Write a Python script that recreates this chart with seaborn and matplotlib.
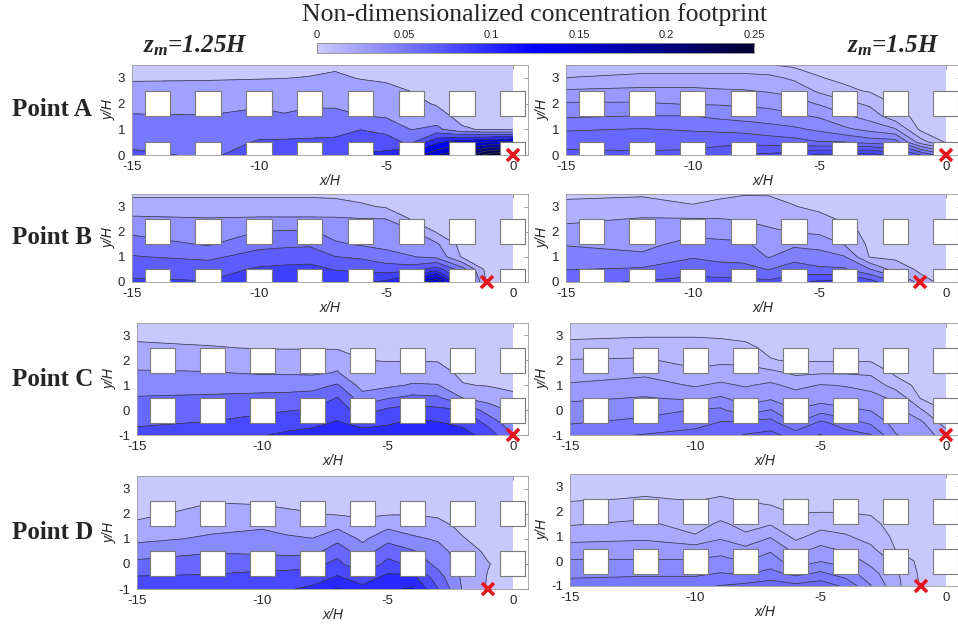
import numpy as np
import matplotlib
matplotlib.use("Agg")
import matplotlib.pyplot as plt
import seaborn as sns
from matplotlib.patches import Rectangle
from matplotlib.cm import ScalarMappable
from matplotlib.colors import Normalize

# grid nodes of the footprint fields
x_nodes = [-15, -12, -10, -9, -8, -7, -6, -5, -4, -3, -2, -1, 0]
y_nodes_ab = [0, 0.5, 1, 1.5, 2, 2.5, 3, 3.5]
y_nodes_cd = [-1, -0.5, 0, 0.5, 1, 1.5, 2, 2.5, 3, 3.5]

# concentration in units of 0.01, one list per x node (bottom -> top)
a_left = [
    [8.2, 6.6, 5.9, 5.2, 4.2, 3.3, 2.2, 1.4],
    [7.0, 6.4, 5.8, 5.1, 4.2, 3.3, 2.3, 1.5],
    [8.8, 7.7, 6.6, 5.7, 4.6, 3.4, 2.4, 1.6],
    [9.1, 7.8, 6.5, 5.2, 4.4, 3.5, 2.45, 1.7],
    [9.4, 7.9, 6.6, 5.6, 4.7, 3.6, 2.6, 1.8],
    [9.6, 8.0, 6.7, 5.7, 4.6, 3.8, 2.8, 2.2],
    [10.2, 8.6, 7.45, 5.1, 4.1, 3.3, 2.4, 1.7],
    [10.8, 8.4, 6.9, 4.8, 4.05, 3.0, 2.2, 1.55],
    [13.5, 7.0, 4.9, 3.9, 3.1, 2.45, 1.9, 1.3],
    [17.0, 12.0, 5.7, 3.4, 2.3, 1.7, 1.3, 1.0],
    [21.0, 14.0, 2.8, 1.8, 1.4, 1.1, 0.9, 0.8],
    [26.0, 15.1, 2.2, 1.55, 1.2, 1.05, 0.9, 0.8],
    [29.0, 16.0, 2.05, 1.4, 1.1, 0.9, 0.8, 0.7],
]
b_left = [
    [8.84, 7.74, 6.89, 5.99, 4.76, 3.66, 2.59, 1.36],
    [8.59, 7.69, 6.46, 4.93, 4.29, 3.49, 2.59, 1.36],
    [9.18, 8.76, 7.48, 6.29, 5.14, 3.57, 2.59, 1.36],
    [9.35, 8.93, 7.69, 6.46, 5.27, 3.57, 2.59, 1.36],
    [9.52, 9.01, 7.82, 6.55, 5.36, 3.57, 2.59, 1.36],
    [9.69, 8.42, 6.84, 5.36, 4.42, 3.57, 2.47, 1.28],
    [9.86, 8.16, 6.55, 4.93, 4.17, 3.49, 1.96, 1.11],
    [10.54, 7.74, 5.78, 4.59, 4.0, 3.44, 1.53, 0.94],
    [13.5, 7.74, 5.19, 4.29, 3.74, 1.62, 1.11, 0.89],
    [17.0, 9.35, 4.68, 3.66, 1.53, 1.11, 0.89, 0.68],
    [8.59, 5.95, 1.53, 1.11, 0.94, 0.89, 0.77, 0.68],
    [1.28, 1.02, 0.89, 0.77, 0.77, 0.68, 0.68, 0.68],
    [0.89, 0.77, 0.77, 0.68, 0.68, 0.68, 0.6, 0.6],
]
c_left = [
    [8.6, 7.7, 7.05, 6.1, 5.2, 4.2, 3.3, 2.4, 1.6, 1.2],
    [9.2, 8.1, 7.1, 6.3, 5.2, 4.1, 3.1, 2.1, 1.5, 1.1],
    [9.9, 8.8, 7.6, 6.5, 5.2, 3.8, 3.05, 1.9, 1.4, 1.1],
    [10.4, 9.1, 7.9, 6.6, 5.2, 3.8, 2.9, 1.9, 1.4, 1.1],
    [10.8, 9.4, 8.1, 6.8, 5.3, 3.7, 2.9, 1.9, 1.4, 1.1],
    [11.1, 10.2, 9.05, 8.05, 6.2, 4.1, 3.5, 1.8, 1.3, 1.05],
    [11.2, 9.05, 7.05, 4.8, 3.2, 2.6, 2.05, 1.6, 1.2, 0.9],
    [11.5, 9.6, 8.4, 5.8, 3.6, 2.8, 1.9, 1.5, 1.2, 0.9],
    [11.5, 10.5, 9.05, 6.5, 4.2, 2.9, 1.95, 1.5, 1.2, 0.9],
    [11.5, 10.1, 8.5, 6.3, 4.1, 2.7, 1.9, 1.5, 1.2, 0.9],
    [10.8, 9.5, 8.05, 3.9, 2.1, 1.6, 1.3, 1.1, 1.05, 0.9],
    [9.05, 7.5, 5.05, 3.2, 1.9, 1.4, 1.2, 1.05, 0.9, 0.8],
    [6.05, 4.5, 3.6, 2.2, 1.8, 1.3, 1.1, 1.05, 0.9, 0.8],
]
d_left = [
    [9.05, 8.05, 6.5, 5.05, 3.5, 2.4, 1.6, 1.3, 1.1, 1.05],
    [9.3, 8.2, 7.05, 5.8, 4.3, 3.5, 2.6, 1.9, 1.4, 1.1],
    [9.9, 8.6, 7.2, 5.6, 4.6, 3.8, 2.5, 1.8, 1.4, 1.1],
    [9.8, 8.8, 7.2, 5.4, 4.3, 3.3, 2.2, 1.7, 1.3, 1.05],
    [10.4, 9.05, 7.3, 5.3, 4.05, 2.9, 2.05, 1.6, 1.3, 1.05],
    [12.2, 10.1, 8.6, 7.2, 5.4, 3.6, 1.8, 1.4, 1.2, 1.05],
    [10.6, 8.9, 6.1, 4.9, 3.6, 2.6, 1.7, 1.4, 1.2, 1.05],
    [11.6, 10.4, 8.6, 7.2, 5.4, 3.6, 1.8, 1.4, 1.2, 1.05],
    [12.3, 10.5, 7.6, 6.2, 4.3, 3.2, 1.9, 1.4, 1.2, 1.05],
    [8.1, 6.8, 5.4, 4.7, 3.8, 2.6, 1.7, 1.3, 1.1, 1.05],
    [3.8, 3.6, 3.4, 3.05, 2.1, 1.6, 1.3, 1.1, 1.05, 0.9],
    [1.8, 1.9, 2.1, 1.6, 1.3, 1.1, 1.05, 0.9, 0.9, 0.8],
    [1.2, 1.2, 1.1, 1.05, 1.05, 0.9, 0.9, 0.8, 0.8, 0.8],
]
a_right = [
    [7.3, 6.6, 5.9, 4.9, 4.1, 3.1, 2.02, 0.98],
    [7.2, 6.6, 6.05, 5.05, 4.1, 3.2, 2.4, 1.2],
    [7.3, 6.6, 5.9, 5.05, 3.9, 3.2, 2.4, 1.2],
    [7.6, 6.7, 5.8, 4.8, 3.9, 3.1, 2.4, 1.2],
    [8.1, 6.7, 5.7, 4.6, 3.8, 3.05, 2.4, 1.2],
    [8.2, 6.6, 5.4, 4.5, 3.7, 2.9, 2.3, 1.05],
    [8.5, 6.4, 5.2, 4.2, 3.4, 2.7, 1.8, 0.8],
    [9.2, 6.05, 4.8, 3.9, 2.9, 1.8, 1.05, 0.7],
    [9.1, 6.05, 4.2, 3.2, 2.3, 1.2, 0.8, 0.6],
    [9.5, 5.6, 3.7, 2.6, 1.8, 0.9, 0.7, 0.6],
    [8.5, 5.5, 3.1, 1.4, 0.9, 0.7, 0.6, 0.5],
    [7.05, 2.5, 0.8, 0.7, 0.6, 0.5, 0.5, 0.5],
    [5.05, 0.9, 0.7, 0.6, 0.5, 0.5, 0.5, 0.5],
]
b_right = [
    [7.2, 5.95, 5.2, 4.4, 3.5, 2.7, 1.9, 1.2],
    [7.6, 6.2, 4.8, 4.05, 3.6, 3.1, 2.2, 1.3],
    [8.05, 6.8, 5.9, 5.05, 4.05, 3.1, 1.6, 1.05],
    [8.05, 6.6, 5.6, 4.9, 3.9, 3.05, 1.9, 1.2],
    [8.1, 6.5, 5.5, 4.8, 3.7, 2.9, 2.2, 1.4],
    [7.8, 5.95, 4.4, 3.8, 3.3, 2.5, 1.8, 1.45],
    [8.5, 6.8, 5.4, 4.2, 2.9, 2.3, 1.55, 1.2],
    [9.3, 6.3, 5.05, 4.05, 2.7, 1.9, 1.2, 1.05],
    [9.6, 6.2, 4.6, 2.9, 2.05, 1.3, 1.05, 0.9],
    [8.2, 4.6, 1.4, 1.2, 1.05, 0.9, 0.8, 0.8],
    [6.1, 2.4, 1.2, 1.05, 0.9, 0.8, 0.8, 0.7],
    [2.05, 1.2, 1.05, 0.9, 0.8, 0.8, 0.7, 0.7],
    [1.05, 0.9, 0.8, 0.8, 0.7, 0.7, 0.7, 0.7],
]
c_right = [
    [5.7, 4.9, 4.4, 3.8, 3.1, 2.6, 2.05, 1.4, 0.8, 0.6],
    [6.05, 5.3, 4.6, 4.05, 3.4, 2.8, 2.1, 1.6, 0.9, 0.6],
    [6.4, 5.6, 5.05, 3.7, 2.9, 2.2, 1.7, 1.3, 0.95, 0.7],
    [6.7, 6.05, 5.2, 4.1, 3.2, 2.4, 1.8, 1.3, 0.9, 0.7],
    [7.05, 6.3, 4.3, 3.6, 2.9, 2.3, 1.8, 1.2, 0.8, 0.6],
    [7.3, 6.4, 5.05, 3.8, 3.2, 2.3, 1.05, 0.8, 0.7, 0.6],
    [6.6, 4.9, 4.05, 3.5, 2.7, 1.8, 0.9, 0.7, 0.6, 0.6],
    [7.05, 6.2, 4.6, 3.5, 3.05, 1.9, 0.9, 0.7, 0.6, 0.6],
    [6.4, 5.5, 4.2, 3.4, 2.95, 1.9, 0.9, 0.7, 0.6, 0.6],
    [6.05, 4.8, 3.95, 3.3, 2.7, 1.8, 0.9, 0.7, 0.6, 0.6],
    [4.05, 3.6, 3.3, 2.8, 1.5, 0.8, 0.7, 0.6, 0.6, 0.5],
    [3.6, 3.2, 2.1, 0.9, 0.7, 0.6, 0.6, 0.5, 0.5, 0.5],
    [2.5, 1.5, 0.9, 0.7, 0.6, 0.5, 0.5, 0.5, 0.5, 0.5],
]
d_right = [
    [5.5, 4.7, 4.1, 3.4, 2.6, 1.9, 1.4, 0.9, 0.7, 0.6],
    [5.7, 4.8, 4.1, 3.4, 2.8, 2.2, 1.6, 1.05, 0.8, 0.6],
    [5.7, 4.8, 4.1, 3.4, 2.1, 1.5, 1.3, 0.95, 0.8, 0.6],
    [6.05, 5.05, 4.3, 3.6, 2.8, 2.2, 1.4, 1.05, 0.8, 0.6],
    [6.3, 4.9, 3.95, 3.2, 2.2, 1.6, 1.2, 0.95, 0.8, 0.6],
    [6.6, 5.3, 4.5, 3.8, 2.9, 1.9, 1.1, 0.9, 0.7, 0.6],
    [6.3, 4.7, 3.4, 2.6, 1.7, 1.3, 0.95, 0.8, 0.7, 0.6],
    [6.6, 5.2, 3.95, 3.2, 2.4, 1.6, 0.95, 0.8, 0.7, 0.6],
    [5.8, 4.5, 3.6, 2.8, 2.1, 1.5, 0.95, 0.8, 0.7, 0.6],
    [4.05, 3.4, 2.7, 2.2, 1.6, 1.2, 0.9, 0.8, 0.7, 0.6],
    [2.3, 2.2, 1.8, 0.95, 0.8, 0.7, 0.6, 0.6, 0.6, 0.5],
    [0.9, 0.8, 0.7, 0.7, 0.6, 0.6, 0.6, 0.6, 0.5, 0.5],
    [0.7, 0.7, 0.6, 0.6, 0.6, 0.6, 0.5, 0.5, 0.5, 0.5],
]

# contour spacing per panel (units of 0.01)
level_steps = {"a_left": 2.5, "b_left": 1.7, "c_left": 2.0, "d_left": 2.0,
               "a_right": 1.0, "b_right": 1.5, "c_right": 1.0, "d_right": 1.0}

# building centres and sensor points
bldg_x = [-14, -12, -10, -8, -6, -4, -2, 0]
bldg_y = [0, 2]
src_x = {"A": 0, "B": -1, "C": 0, "D": -1}
src_y = {"A": 0, "B": 0, "C": -1, "D": -1}
cbar_ticks = [0, 0.05, 0.1, 0.15, 0.2, 0.25]

sns.set_style("white")
plt.rcParams["font.family"] = ["Liberation Sans", "DejaVu Sans"]
plt.rcParams["axes.unicode_minus"] = False
plt.rcParams["mathtext.fontset"] = "custom"
plt.rcParams["mathtext.it"] = "Liberation Serif:italic:bold"
plt.rcParams["mathtext.rm"] = "Liberation Serif:italic:bold"

cmap = sns.blend_palette(["#c8c8ff", "#0000ff", "#000030"], as_cmap=True)

W, H = 958, 630
fig = plt.figure(figsize=(W / 100, H / 100), dpi=100)


def px_axes(left, top, width, height):
    return fig.add_axes([left / W, 1 - (top + height) / H, width / W, height / H])


panels = [
    ("a_left", a_left, "A", (132, 65, 396, 90)),
    ("b_left", b_left, "B", (132, 194, 396, 88)),
    ("c_left", c_left, "C", (137, 323, 391, 112)),
    ("d_left", d_left, "D", (137, 476, 391, 113)),
    ("a_right", a_right, "A", (566, 65, 395, 90)),
    ("b_right", b_right, "B", (566, 194, 395, 88)),
    ("c_right", c_right, "C", (570, 323, 391, 112)),
    ("d_right", d_right, "D", (570, 474, 391, 112)),
]

for key, cols, pt, pos in panels:
    ax = px_axes(*pos)
    ys = y_nodes_ab if pt in "AB" else y_nodes_cd
    Z = np.array(cols).T
    step = level_steps[key]
    lev = np.arange(0, Z.max() + step, step)
    band_colors = [cmap(l * 0.01 / 0.25) for l in lev[:-1]]
    ax.contourf(x_nodes, ys, Z, levels=lev, colors=band_colors)
    ax.contour(x_nodes, ys, Z, levels=lev[1:], colors="#3c3c46", linewidths=0.55)

    for bx in bldg_x:
        for by in bldg_y:
            ax.add_patch(Rectangle((bx - 0.5, by - 0.5), 1, 1, facecolor="white",
                                   edgecolor="#7a7a7a", linewidth=0.8, zorder=3))

    ax.plot(src_x[pt], src_y[pt], marker="x", color="#e3161e", markersize=8,
            markeredgewidth=2.6, clip_on=False, zorder=5)

    ax.set_xlim(-15, 0.6)
    ax.set_ylim(ys[0], 3.5)
    ax.set_xticks([-15, -10, -5, 0])
    ax.set_yticks([0, 1, 2, 3] if pt in "AB" else [-1, 0, 1, 2, 3])
    ax.tick_params(direction="in", top=True, right=True, length=3, width=0.6,
                   color="#8c8c8c", labelcolor="#262626", labelsize=9.5)
    ax.tick_params(axis="x", pad=4)
    ax.tick_params(axis="y", pad=5)
    for sp in ax.spines.values():
        sp.set_color("#9a9a9a")
        sp.set_linewidth(0.6)
    ax.set_xlabel("x/H", fontsize=10, style="italic", color="#262626", labelpad=1)
    ax.set_ylabel("y/H", fontsize=10, style="italic", color="#262626", labelpad=1)

    if key.endswith("left"):
        cy = pos[1] + pos[3] / 2
        fig.text(12 / W, 1 - cy / H, "Point " + pt, family="Liberation Serif",
                 fontweight="bold", fontsize=18, ha="left", va="center")

# colour bar
cax = px_axes(317, 43, 437, 10)
sm = ScalarMappable(norm=Normalize(0, 0.25), cmap=cmap)
cb = fig.colorbar(sm, cax=cax, orientation="horizontal", ticks=cbar_ticks)
cb.ax.xaxis.set_ticks_position("top")
cb.ax.set_xticklabels(["0", "0.05", "0.1", "0.15", "0.2", "0.25"])
cb.ax.tick_params(direction="in", length=2.5, width=0.6, color="#555555",
                  labelcolor="#262626", labelsize=8, pad=2)
cb.outline.set_edgecolor("#8c8c8c")
cb.outline.set_linewidth(0.6)

fig.text(535 / W, 1 - 15 / H, "Non-dimensionalized concentration footprint",
         family="Liberation Serif", fontsize=18.5, ha="center", va="center")
fig.text(195 / W, 1 - 46 / H, r"$z_m$=1.25H", family="Liberation Serif",
         fontweight="bold", style="italic", fontsize=18, ha="center", va="center")
fig.text(893 / W, 1 - 46 / H, r"$z_m$=1.5H", family="Liberation Serif",
         fontweight="bold", style="italic", fontsize=18, ha="center", va="center")

fig.savefig("out.png", dpi=100)
